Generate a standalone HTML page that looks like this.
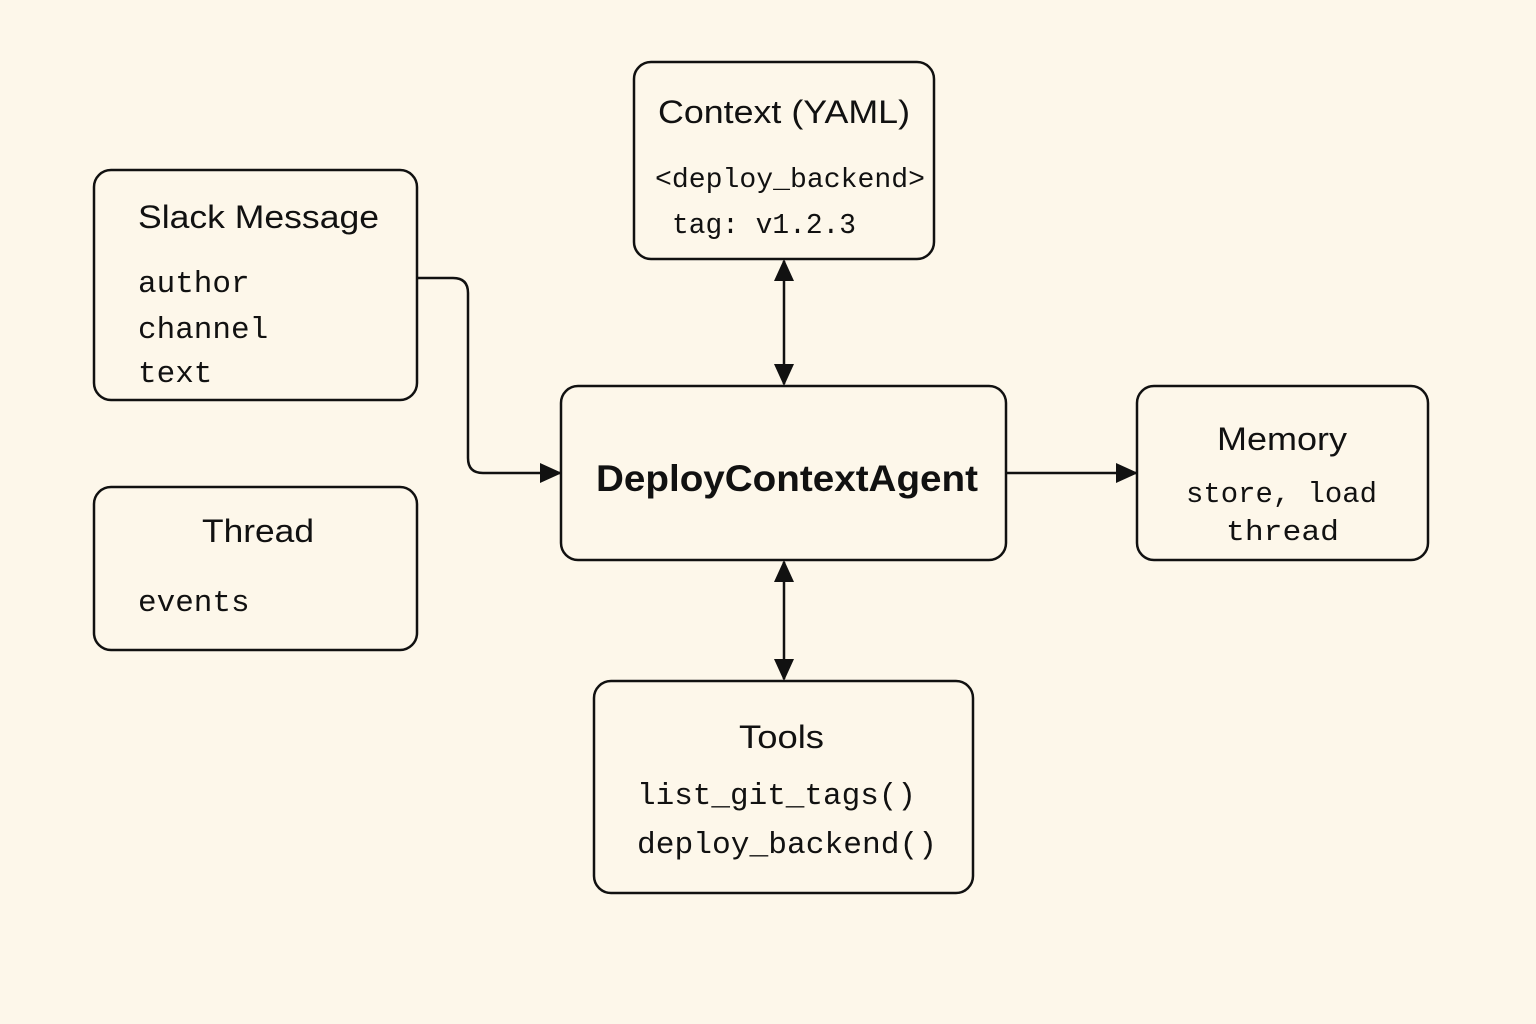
<!DOCTYPE html>
<html><head><style>
html,body{margin:0;padding:0;background:#fdf7ea;}
svg{display:block}
.s{font-family:"Liberation Sans",sans-serif;fill:#111;}
.m{font-family:"Liberation Mono","DejaVu Sans Mono",monospace;fill:#111;}
</style></head><body>
<svg width="1536" height="1024" viewBox="0 0 1536 1024" xmlns="http://www.w3.org/2000/svg">
<defs>
<marker id="a" markerWidth="22" markerHeight="22" refX="20" refY="11" orient="auto-start-reverse" markerUnits="userSpaceOnUse" viewBox="0 0 22 22">
<path d="M0,1 L22,11 L0,21 z" fill="#111"/>
</marker>
</defs>
<rect width="1536" height="1024" fill="#fdf7ea"/>
<g fill="none" stroke="#111" stroke-width="2.5">
<rect x="94" y="170" width="323" height="230" rx="17"/>
<rect x="94" y="487" width="323" height="163" rx="17"/>
<rect x="634" y="62" width="300" height="197" rx="17"/>
<rect x="561" y="386" width="445" height="174" rx="17"/>
<rect x="1137" y="386" width="291" height="174" rx="17"/>
<rect x="594" y="681" width="379" height="212" rx="17"/>
<path d="M417,278 H453 Q468,278 468,293 V458 Q468,473 483,473 H560" marker-end="url(#a)"/>
<path d="M784,261 V384" marker-start="url(#a)" marker-end="url(#a)"/>
<path d="M784,562 V679" marker-start="url(#a)" marker-end="url(#a)"/>
<path d="M1006,473 H1136" marker-end="url(#a)"/>
</g>
<text class="s" x="138" y="228" font-size="32" textLength="241" lengthAdjust="spacingAndGlyphs">Slack Message</text>
<text class="m" x="138" y="292" font-size="31">author</text>
<text class="m" x="138" y="338" font-size="31">channel</text>
<text class="m" x="138" y="382" font-size="31">text</text>
<text class="s" x="202" y="542" font-size="32" textLength="112" lengthAdjust="spacingAndGlyphs">Thread</text>
<text class="m" x="138" y="611" font-size="31">events</text>
<text class="s" x="658" y="123" font-size="32" textLength="252" lengthAdjust="spacingAndGlyphs">Context (YAML)</text>
<text class="m" x="655" y="187" font-size="28" textLength="270" lengthAdjust="spacingAndGlyphs">&lt;deploy_backend&gt;</text>
<text class="m" x="672" y="233" font-size="29" textLength="184" lengthAdjust="spacingAndGlyphs">tag: v1.2.3</text>
<text class="s" x="596" y="491" font-size="37" font-weight="bold" textLength="382" lengthAdjust="spacingAndGlyphs">DeployContextAgent</text>
<text class="s" x="1217" y="450" font-size="32" textLength="130" lengthAdjust="spacingAndGlyphs">Memory</text>
<text class="m" x="1186" y="502" font-size="29" textLength="191" lengthAdjust="spacingAndGlyphs">store, load</text>
<text class="m" x="1226" y="540" font-size="29" textLength="113" lengthAdjust="spacingAndGlyphs">thread</text>
<text class="s" x="739" y="748" font-size="32" textLength="85" lengthAdjust="spacingAndGlyphs">Tools</text>
<text class="m" x="637" y="804" font-size="31" textLength="279" lengthAdjust="spacingAndGlyphs">list_git_tags()</text>
<text class="m" x="637" y="853" font-size="31" textLength="300" lengthAdjust="spacingAndGlyphs">deploy_backend()</text>
</svg>
</body></html>
